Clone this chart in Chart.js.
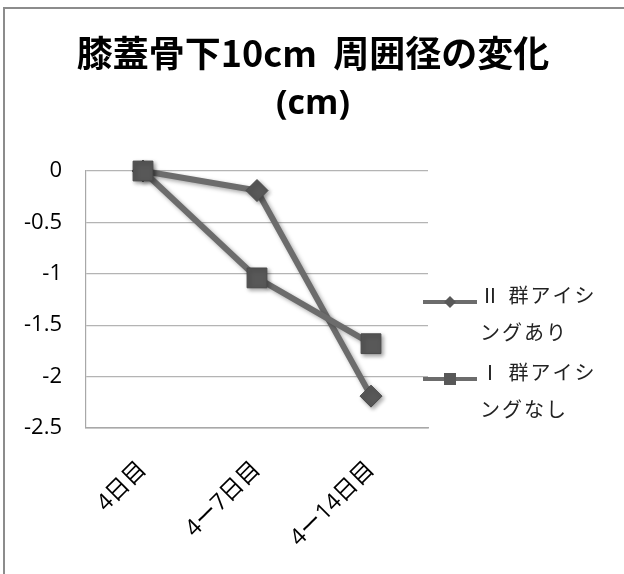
<!DOCTYPE html>
<html>
<head>
<meta charset="utf-8">
<script src="https://cdn.jsdelivr.net/npm/chart.js@4/dist/chart.umd.min.js"></script>
<style>
  html, body { margin: 0; padding: 0; background: #fff; overflow: hidden; }
  #wrap { position: relative; width: 624px; height: 574px; }
  #frame { position: absolute; left: 3px; top: 7px; width: 800px; height: 800px; border: 2px solid #8c8c8c; box-sizing: border-box; pointer-events: none; }
  canvas { position: absolute; left: 0; top: 0; }
</style>
</head>
<body>
<div id="wrap">
  <canvas id="c" width="624" height="574"></canvas>
  <div id="frame"></div>
</div>
<script>
// ---- data ----
const titleLines = ['膝蓋骨下10cm  周囲径の変化', '(cm)'];
const categories = ['4日目', '4ー7日目', '4ー14日目'];
const seriesNames = [['Ⅱ 群アイシ', 'ングあり'], ['Ⅰ 群アイシ', 'ングなし']];
const seriesII = [0, -0.19, -2.19];   // Ⅱ群アイシングあり (diamond)
const seriesI  = [0, -1.04, -1.68];   // Ⅰ群アイシングなし (square)
const yMin = -2.5;
const yMax = 0;
const yStep = 0.5;

const lineColor = '#6c6c6c';
const pointFill = '#585858';
const pointEdge = '#4a4a4a';
const pointStyles = ['rectRot', 'rect'];

const shadowPlugin = {
  id: 'shadow',
  beforeDatasetDraw(chart) {
    const ctx = chart.ctx;
    ctx.save();
    ctx.shadowColor = 'rgba(0,0,0,0.35)';
    ctx.shadowBlur = 4;
    ctx.shadowOffsetX = 2;
    ctx.shadowOffsetY = 2;
  },
  afterDatasetDraw(chart) {
    chart.ctx.restore();
  }
};

const titleLegendPlugin = {
  id: 'titleLegend',
  afterDraw(chart) {
    const ctx = chart.ctx;
    const area = chart.chartArea;
    ctx.save();
    // title
    ctx.fillStyle = '#000';
    ctx.textAlign = 'center';
    ctx.textBaseline = 'middle';
    ctx.font = 'bold 36px "Noto Sans CJK JP", "Open Sans", sans-serif';
    ctx.fillText(titleLines[0], 313, 53);
    ctx.font = 'bold 34px "Open Sans", "Noto Sans CJK JP", sans-serif';
    ctx.fillText(titleLines[1], 313, 104);

    // legend
    const lx0 = area.right - 5;
    const lx1 = area.right + 49;
    const lxm = (lx0 + lx1) / 2;
    const tx = area.right + 52;
    const itemY = [302, 379];
    chart.data.datasets.forEach((ds, i) => {
      const y = itemY[i];
      ctx.strokeStyle = lineColor;
      ctx.lineWidth = 4;
      ctx.beginPath();
      ctx.moveTo(lx0, y);
      ctx.lineTo(lx1, y);
      ctx.stroke();
      ctx.fillStyle = pointFill;
      ctx.beginPath();
      if (pointStyles[i] === 'rectRot') {
        ctx.moveTo(lxm, y - 6); ctx.lineTo(lxm + 6, y); ctx.lineTo(lxm, y + 6); ctx.lineTo(lxm - 6, y);
        ctx.closePath();
      } else {
        ctx.rect(lxm - 6, y - 6, 12, 12);
      }
      ctx.fill();
      ctx.fillStyle = '#222';
      ctx.textAlign = 'left';
      ctx.textBaseline = 'middle';
      ctx.font = '20px "Noto Sans CJK JP", sans-serif';
      if ('letterSpacing' in ctx) ctx.letterSpacing = '2px';
      const lines = seriesNames[i];
      ctx.fillText(lines[0], tx, y - 7);
      ctx.fillText(lines[1], tx, y + 30);
      if ('letterSpacing' in ctx) ctx.letterSpacing = '0px';
    });
    ctx.restore();
  }
};

new Chart(document.getElementById('c'), {
  type: 'line',
  data: {
    labels: categories,
    datasets: [
      {
        label: seriesNames[0].join(''),
        data: seriesII,
        borderColor: lineColor,
        borderWidth: 6,
        pointStyle: pointStyles[0],
        pointRadius: 11,
        pointBackgroundColor: pointFill,
        pointBorderColor: pointEdge,
        pointBorderWidth: 1,
        tension: 0,
        clip: false,
        order: 1
      },
      {
        label: seriesNames[1].join(''),
        data: seriesI,
        borderColor: lineColor,
        borderWidth: 6,
        pointStyle: pointStyles[1],
        pointRadius: 14,
        pointBackgroundColor: pointFill,
        pointBorderColor: pointEdge,
        pointBorderWidth: 1,
        tension: 0,
        clip: false,
        order: 0
      }
    ]
  },
  options: {
    responsive: false,
    animation: false,
    events: [],
    layout: { padding: { left: 0, top: 171, right: 196, bottom: 0 } },
    plugins: { legend: { display: false }, title: { display: false }, tooltip: { enabled: false } },
    scales: {
      x: {
        offset: true,
        grid: { display: false, drawTicks: false },
        border: { display: true, color: '#a8a8a8', width: 1.5 },
        ticks: {
          minRotation: 45, maxRotation: 45,
          padding: 28,
          color: '#000',
          font: { size: 23, family: '"Open Sans", "Noto Sans CJK JP", sans-serif' }
        },
        afterFit(s) { s.height = 146; }
      },
      y: {
        min: yMin, max: yMax,
        grid: { color: '#b4b4b4', lineWidth: 1.2, drawTicks: false },
        border: { display: true, color: '#a8a8a8', width: 1.2 },
        ticks: {
          stepSize: yStep,
          padding: 24,
          color: '#000',
          font: { size: 22, family: '"Open Sans", sans-serif' },
          callback: v => String(v)
        },
        afterFit(s) { s.width = 86; }
      }
    }
  },
  plugins: [shadowPlugin, titleLegendPlugin]
});
</script>
</body>
</html>
